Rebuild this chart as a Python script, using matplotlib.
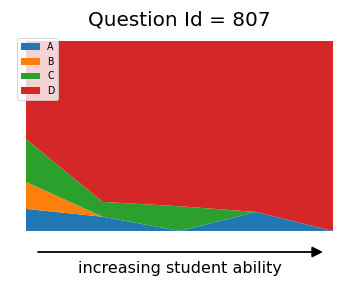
import matplotlib.pyplot as plt

# student ability bins (left -> right)
ability = [0, 1, 2, 3, 4]
labels = ['A', 'B', 'C', 'D']
frac_a = [0.116, 0.075, 0.0, 0.10, 0.0]
frac_b = [0.142, 0.0, 0.0, 0.0, 0.0]
frac_c = [0.226, 0.078, 0.13, 0.0, 0.0]
frac_d = [0.516, 0.847, 0.87, 0.90, 1.0]

fig = plt.figure(figsize=(5, 4), dpi=72)
ax = fig.add_axes([0.072, 0.198, 0.853, 0.66])
ax.stackplot(ability, frac_a, frac_b, frac_c, frac_d, labels=labels)
ax.set_xlim(ability[0], ability[-1])
ax.set_ylim(0, 1)
ax.axis('off')
ax.set_title('Question Id = 807', fontsize=20, pad=15)
ax.legend(loc='upper left', bbox_to_anchor=(-0.045, 1.04), fontsize=9.5)

# arrow under the chart
fig.patches.append(plt.matplotlib.patches.FancyArrowPatch(
    (36 / 360, 1 - 252 / 288), (325 / 360, 1 - 252 / 288),
    transform=fig.transFigure, arrowstyle='-|>', mutation_scale=22,
    color='black', lw=1.8))
fig.text(0.5, 1 - 269 / 288, 'increasing student ability',
         ha='center', va='center', fontsize=16)

fig.savefig('out.png')
